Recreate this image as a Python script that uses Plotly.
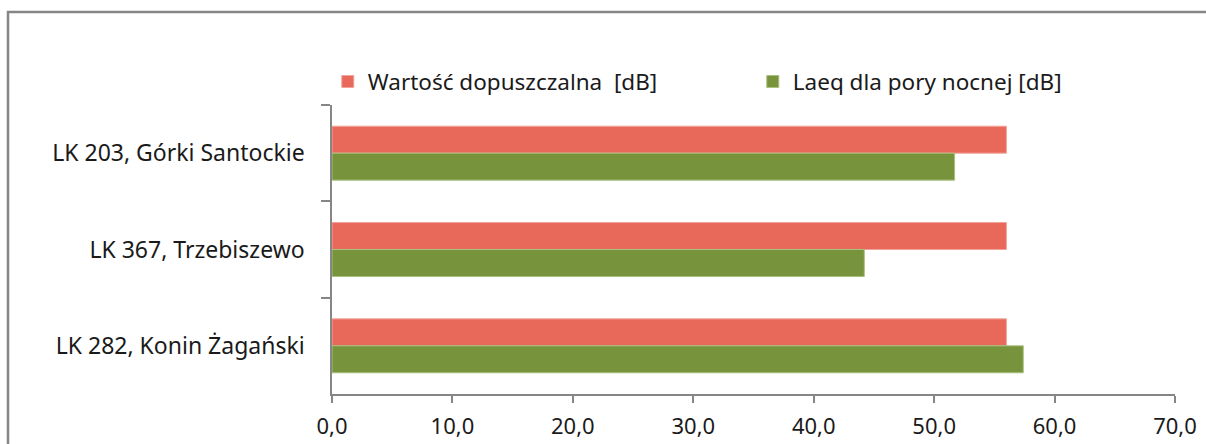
import plotly.graph_objects as go

# Measurement sites (top to bottom) and noise levels in dB
sites = ["LK 203, Górki Santockie", "LK 367, Trzebiszewo", "LK 282, Konin Żagański"]
limit_db = [56.0, 56.0, 56.0]
laeq_night_db = [51.7, 44.2, 57.4]

series_names = ["Wartość dopuszczalna  [dB]", "Laeq dla pory nocnej [dB]"]
x_ticks = [0, 10, 20, 30, 40, 50, 60, 70]

RED = "#E8685A"
GREEN = "#77933C"
AXIS_GREY = "#868686"
TEXT = "#1a1a1a"
FONT = "Noto Sans"

W, H = 1206, 444
ML, MR, MT, MB = 332, 31, 105, 50
plot_w = W - ML - MR
plot_h = H - MT - MB

fig = go.Figure()
fig.add_trace(go.Bar(
    y=sites, x=limit_db, name=series_names[0], orientation="h",
    marker=dict(color=RED, line=dict(color="#F2A49C", width=1)),
))
fig.add_trace(go.Bar(
    y=sites, x=laeq_night_db, name=series_names[1], orientation="h",
    marker=dict(color=GREEN, line=dict(color="#A9C07E", width=1)),
))

# chart-area frame, open towards the right and bottom
fig.add_shape(
    type="rect", xref="paper", yref="paper",
    x0=(8 - ML) / plot_w, x1=(W + 20 - ML) / plot_w,
    y0=-(H + 20 - (H - MB)) / plot_h, y1=1 + (MT - 12) / plot_h,
    line=dict(color=AXIS_GREY, width=2.5), fillcolor="rgba(0,0,0,0)", layer="below",
)

fig.update_layout(
    width=W, height=H,
    margin=dict(l=ML, r=MR, t=MT, b=MB, pad=0, autoexpand=False),
    paper_bgcolor="white", plot_bgcolor="white",
    barmode="group", bargap=0.44, bargroupgap=0,
    separators=", ",
    font=dict(family=FONT, size=22, color=TEXT),
    legend=dict(
        orientation="h", x=-0.005, xanchor="left", y=1.08, yanchor="middle",
        font=dict(family=FONT, size=22.5, color=TEXT),
        entrywidth=380, entrywidthmode="pixels",
        bgcolor="rgba(0,0,0,0)", traceorder="normal",
    ),
    xaxis=dict(
        range=[0, 70], tickvals=x_ticks, tickformat=".1f",
        showgrid=False, zeroline=False, automargin=False,
        showline=True, linecolor=AXIS_GREY, linewidth=1.5,
        ticks="outside", ticklen=7, tickcolor=AXIS_GREY, tickwidth=1.5,
        tickfont=dict(family=FONT, size=22, color=TEXT),
        ticklabelstandoff=5,
        fixedrange=True,
    ),
    yaxis=dict(
        autorange="reversed", type="category", automargin=False,
        showgrid=False, zeroline=False,
        showline=True, linecolor=AXIS_GREY, linewidth=1.5,
        ticks="outside", tickson="boundaries", ticklen=9,
        tickcolor=AXIS_GREY, tickwidth=1.5,
        tickfont=dict(family=FONT, size=23, color=TEXT),
        ticklabelstandoff=21,
        fixedrange=True,
    ),
)

fig.write_html("out.html")
